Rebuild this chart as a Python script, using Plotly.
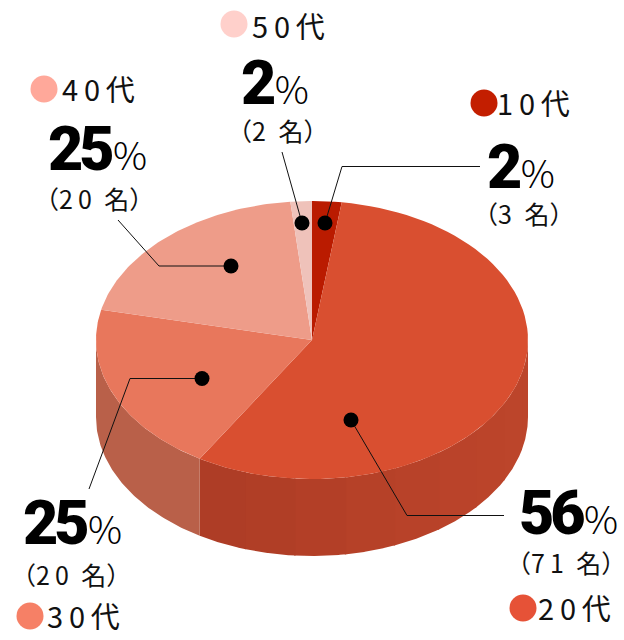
import numpy as np
import plotly.graph_objects as go

# age groups, clockwise from 12 o'clock
ages = ["10代", "20代", "30代", "40代", "50代"]
percents = ["2", "56", "25", "25", "2"]
people = ["3", "71", "20", "20", "2"]
# slice sizes as drawn in the picture (they differ from the printed labels)
shares = [2.2, 56.5, 19.8, 19.9, 1.6]

top_colors = ["#BA1B00", "#D94F30", "#E8775C", "#EE9C89", "#EFC2BA"]
side_colors = ["#9A1700", "#B8422A", "#B96049", "#C08070", "#C8A098"]
dot_colors = ["#C31E00", "#E65237", "#F68066", "#FFA89A", "#FFD0CB"]
# the big slice's wall gets lighter from right to left in the reference
wall_shades = ["#BC452B", "#BC452B", "#BB442A", "#BA432A", "#B84229", "#B64128", "#B33F27", "#B03E26", "#AE3D26"]

# pie drawn in pixel coordinates
cx, cy, rx, ry, depth = 312, 340, 216, 139, 77

# legend dot, big number, people label and leader line for each group
legend_xy = [(484, 103), (523, 608), (30, 616), (44, 89), (234, 24)]
name_xy = [(495, 102), (536, 607), (45, 615), (60, 88), (250, 25)]
pct_xy = [(485, 167), (517, 513), (21, 523), (46, 149), (239, 83)]
count_xy = [(523, 213), (566, 562), (71, 574), (94, 198), (277, 130)]
leaders = [
    [(325, 223), (342, 166.5), (480, 166.5)],
    [(351, 420), (407, 515.5), (504, 515.5)],
    [(202, 378.5), (130, 378.5), (89, 489)],
    [(231, 266), (159, 266), (118, 220)],
    [(302, 223), (282, 152)],
]

BIG = "Roboto"
JP = "Noto Sans CJK JP"


def spaced(s):
    return "\u2009".join(s)


def arc(a0, a1, dy=0, n=80):
    t = np.radians(np.linspace(a0, a1, n))
    return cx + rx * np.sin(t), cy - ry * np.cos(t) + dy


def wall(a0, a1, color):
    x1, y1 = arc(a0, a1)
    x2, y2 = arc(a1, a0, depth)
    fig.add_trace(go.Scatter(
        x=np.concatenate([x1, x2]), y=np.concatenate([y1, y2]),
        mode="lines", fill="toself", fillcolor=color,
        line=dict(width=0), hoverinfo="skip", showlegend=False,
    ))


fig = go.Figure()

edges = np.concatenate([[0], np.cumsum(shares)]) / sum(shares) * 360

# outer wall first, only the front half can be seen
for i in range(len(shares)):
    a0, a1 = max(edges[i], 90), min(edges[i + 1], 270)
    if a1 <= a0:
        continue
    if i == 1:
        cuts = np.linspace(a0, a1, len(wall_shades) + 1)
        for k, shade in enumerate(wall_shades):
            wall(cuts[k], min(cuts[k + 1] + 0.4, a1), shade)
    else:
        wall(a0, a1, side_colors[i])

# top face
for i in range(len(shares)):
    x1, y1 = arc(edges[i], edges[i + 1])
    fig.add_trace(go.Scatter(
        x=np.concatenate([[cx], x1, [cx]]), y=np.concatenate([[cy], y1, [cy]]),
        mode="lines", fill="toself", fillcolor=top_colors[i],
        line=dict(width=0), hoverinfo="skip", showlegend=False,
    ))

for i in range(len(ages)):
    xs = [p[0] for p in leaders[i]]
    ys = [p[1] for p in leaders[i]]
    fig.add_trace(go.Scatter(
        x=xs, y=ys, mode="lines", line=dict(color="#111111", width=1),
        hoverinfo="skip", showlegend=False,
    ))
    fig.add_trace(go.Scatter(
        x=xs[:1], y=ys[:1], mode="markers", marker=dict(color="black", size=15),
        hoverinfo="skip", showlegend=False,
    ))
    fig.add_trace(go.Scatter(
        x=[legend_xy[i][0]], y=[legend_xy[i][1]], mode="markers",
        marker=dict(color=dot_colors[i], size=27),
        hoverinfo="skip", showlegend=False,
    ))
    fig.add_annotation(
        x=name_xy[i][0], y=name_xy[i][1], text=spaced(ages[i]), showarrow=False,
        xanchor="left", yanchor="middle", font=dict(family=JP, size=29, color="#111111"),
    )
    fig.add_annotation(
        x=pct_xy[i][0], y=pct_xy[i][1], showarrow=False, xanchor="left", yanchor="middle",
        text=f"<span style='font-family:{BIG};font-size:61px;font-weight:900;"
             f"letter-spacing:-4px'>{percents[i]}</span>"
             f"<span style='font-family:{JP};font-size:38px;font-weight:300'>\u200a%</span>",
        font=dict(family=BIG, size=38, color="#000000"),
    )
    fig.add_annotation(
        x=count_xy[i][0], y=count_xy[i][1], text=f"（{spaced(people[i])}\u2002名）", showarrow=False,
        xanchor="center", yanchor="middle", font=dict(family=JP, size=25, color="#111111"),
    )

fig.update_layout(
    width=624, height=640, margin=dict(l=0, r=0, t=0, b=0),
    paper_bgcolor="white", plot_bgcolor="white", showlegend=False,
    xaxis=dict(range=[0, 624], visible=False, fixedrange=True),
    yaxis=dict(range=[640, 0], visible=False, fixedrange=True),
)

fig.write_html(
    "out.html",
    config={"displayModeBar": False},
    post_script="document.body.style.margin='0';",
)
